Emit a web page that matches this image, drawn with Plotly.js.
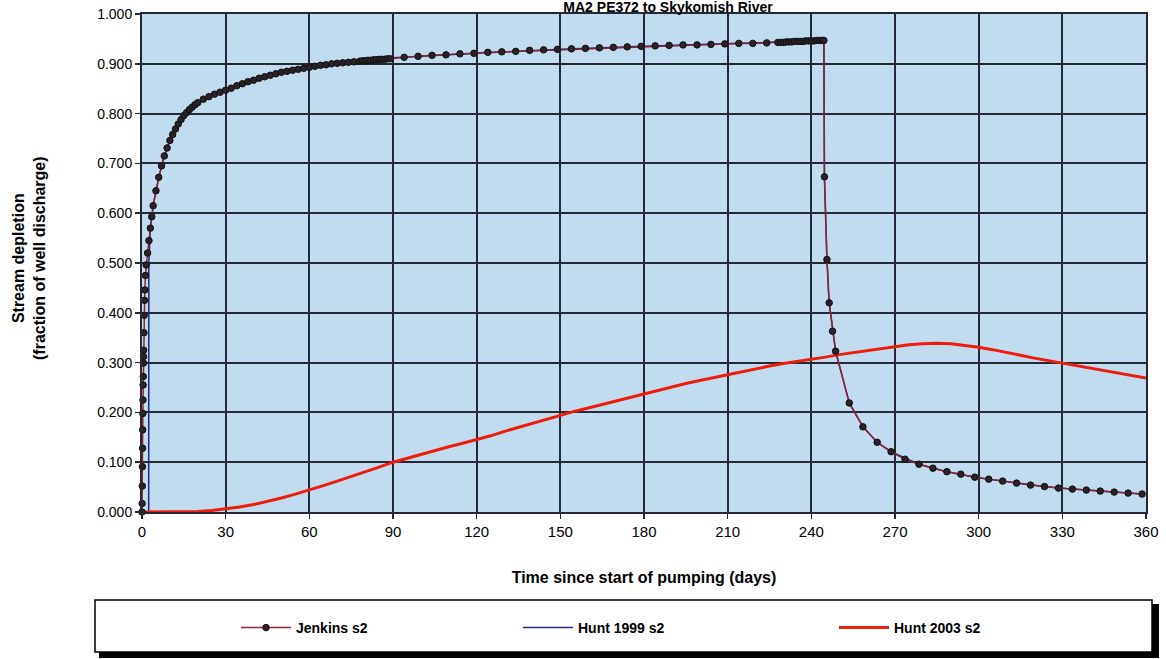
<!DOCTYPE html>
<html>
<head>
<meta charset="utf-8">
<script src="https://cdn.plot.ly/plotly-3.0.1.min.js"></script>
<style>html,body{margin:0;padding:0;background:#fff;}#chart{width:1166px;height:659px;}</style>
</head>
<body>
<div id="chart"></div>
<script>
// ---------- DATA ----------
var chartTitle = "MA2 PE372 to Skykomish River";
var xTitle = "Time since start of pumping (days)";
var yTitle = "Stream depletion<br>(fraction of well discharge)";
var seriesNames = ["Jenkins s2", "Hunt 1999 s2", "Hunt 2003 s2"];

var jenkinsDays = [0,0.05,0.1,0.15,0.2,0.25,0.3,0.35,0.4,0.45,0.5,0.55,0.6,0.7,0.8,0.9,1,1.25,1.5,2,2.5,3,3.5,4,5,6,7,8,9,10,11,12,13,14,15,16,17,18,19,20,22,24,26,28,30,32,34,36,38,40,42,44,46,48,50,52,54,56,58,60,62,64,66,68,70,72,74,76,78,79,80,81,82,83,84,85,86,87,88,89,94,99,104,109,114,119,124,129,134,139,144,149,154,159,164,169,174,179,184,189,194,199,204,209,214,219,224,228,229,230,231,232,233,234,235,236,237,238,239,240,241,242,243,244,244.5,244.7,245.6,246.4,247.6,248.7,253.6,258.5,263.6,268.6,273.6,278.6,283.6,288.6,293.6,298.6,303.6,308.6,313.6,318.6,323.6,328.6,333.6,338.6,343.6,348.6,353.6,358.6];
var jenkinsValues = [0,0.017,0.052,0.091,0.128,0.165,0.198,0.225,0.255,0.272,0.299,0.312,0.325,0.36,0.395,0.425,0.446,0.475,0.496,0.52,0.545,0.57,0.593,0.615,0.645,0.672,0.695,0.715,0.731,0.746,0.758,0.769,0.779,0.788,0.796,0.802,0.808,0.813,0.818,0.822,0.829,0.834,0.839,0.843,0.847,0.851,0.856,0.86,0.864,0.867,0.871,0.874,0.877,0.88,0.883,0.885,0.887,0.889,0.891,0.893,0.895,0.897,0.898,0.9,0.901,0.902,0.903,0.904,0.905,0.906,0.906,0.907,0.907,0.908,0.908,0.909,0.909,0.909,0.91,0.91,0.913,0.915,0.917,0.918,0.92,0.921,0.923,0.924,0.925,0.927,0.928,0.929,0.93,0.931,0.932,0.933,0.934,0.935,0.936,0.937,0.938,0.938,0.939,0.94,0.941,0.941,0.942,0.943,0.943,0.943,0.944,0.944,0.944,0.945,0.945,0.945,0.945,0.946,0.946,0.946,0.946,0.947,0.947,0.947,0.947,0.673,0.507,0.42,0.363,0.323,0.219,0.171,0.14,0.121,0.106,0.096,0.088,0.081,0.076,0.07,0.066,0.062,0.058,0.054,0.051,0.048,0.046,0.044,0.042,0.04,0.038,0.036];

var hunt1999Days = [0,2.4,2.45,3,4,5,6,8,10,12,15,20,25,30,40,50,60,75,90,120,150,180,210,240,244.5,244.7,245.6,246.4,247.6,248.7,253.6,258.5,263.6,268.6,278.6,288.6,298.6,308.6,318.6,328.6,338.6,348.6,358.6];
var hunt1999Values = [0,0,0.5,0.57,0.615,0.645,0.672,0.715,0.746,0.769,0.796,0.822,0.837,0.847,0.867,0.883,0.893,0.904,0.912,0.921,0.929,0.935,0.94,0.946,0.947,0.673,0.507,0.42,0.363,0.323,0.219,0.171,0.14,0.121,0.096,0.081,0.07,0.062,0.054,0.048,0.044,0.04,0.036];

var hunt2003Days = [0,15,20,25,30,35,40,45,50,55,60,65,70,75,80,85,90,95,100,105,110,115,120,125,130,135,140,145,150,155,160,165,170,175,180,185,190,195,200,205,210,215,220,225,230,235,240,245,250,255,260,265,270,275,280,285,290,295,300,305,310,315,320,325,330,335,340,345,350,355,360];
var hunt2003Values = [0,0,0.001,0.003,0.006,0.01,0.015,0.021,0.028,0.036,0.044,0.053,0.062,0.071,0.08,0.09,0.1,0.108,0.116,0.124,0.131,0.138,0.145,0.153,0.162,0.17,0.178,0.187,0.195,0.202,0.209,0.216,0.224,0.231,0.238,0.245,0.252,0.258,0.264,0.27,0.275,0.281,0.287,0.293,0.298,0.302,0.306,0.311,0.316,0.32,0.325,0.329,0.333,0.336,0.338,0.339,0.338,0.335,0.331,0.326,0.32,0.314,0.309,0.304,0.299,0.294,0.289,0.284,0.279,0.274,0.269];

var xTicks = [0,30,60,90,120,150,180,210,240,270,300,330,360];
var yTicks = [0,0.1,0.2,0.3,0.4,0.5,0.6,0.7,0.8,0.9,1.0];

// ---------- LAYOUT HELPERS ----------
var W = 1166, H = 659;
var L = 142, R = 1146, T = 14, B = 512;
function px(x){ return (x - L) / (R - L); }
function py(y){ return (B - y) / (B - T); }

var font = "Arial, 'Liberation Sans', sans-serif";

var traces = [
  { x: hunt1999Days, y: hunt1999Values, name: seriesNames[1], type: 'scatter', mode: 'lines',
    line: { color: '#1f2a80', width: 1.5 }, legend: 'legend2', cliponaxis: false },
  { x: hunt2003Days, y: hunt2003Values, name: seriesNames[2], type: 'scatter', mode: 'lines',
    line: { color: '#ee1c0e', width: 3 }, legend: 'legend3', cliponaxis: false },
  { x: jenkinsDays, y: jenkinsValues, name: seriesNames[0], type: 'scatter', mode: 'lines+markers',
    line: { color: '#8e2530', width: 1.5 },
    marker: { symbol: 'circle', size: 6.5, color: '#2a2226', line: { color: '#111', width: 1 } },
    legend: 'legend', cliponaxis: false }
];

function legendCfg(xpx){
  return { x: px(xpx), xanchor: 'left', y: py(628), yanchor: 'middle', orientation: 'h',
    bgcolor: 'rgba(0,0,0,0)', borderwidth: 0, itemwidth: 50,
    font: { family: font, size: 14, color: '#000', weight: 'bold' } };
}

var layout = {
  width: W, height: H,
  margin: { l: L, r: W - R, t: T, b: H - B, pad: 0 },
  paper_bgcolor: '#ffffff',
  plot_bgcolor: '#c1dbef',
  showlegend: true,
  title: { text: chartTitle, x: 668 / W, xanchor: 'center', xref: 'container', yref: 'container',
    y: 1 - 7 / H, yanchor: 'middle', font: { family: font, size: 14, color: '#000', weight: 'bold' } },
  xaxis: {
    range: [0, 360], tickvals: xTicks, ticktext: xTicks.map(String),
    showgrid: true, gridcolor: '#262833', gridwidth: 2,
    showline: true, linecolor: '#262833', linewidth: 2, mirror: true,
    ticks: 'outside', ticklen: 5, tickcolor: '#262833', tickwidth: 1.5,
    tickfont: { family: font, size: 15, color: '#000' }, zeroline: false,
    title: { text: xTitle, standoff: 33, font: { family: font, size: 16, color: '#000', weight: 'bold' } },
    automargin: false, fixedrange: true
  },
  yaxis: {
    range: [0, 1], tickvals: yTicks, tickformat: '.3f',
    showgrid: true, gridcolor: '#262833', gridwidth: 2,
    showline: true, linecolor: '#262833', linewidth: 2, mirror: true,
    ticks: 'outside', ticklen: 5, tickcolor: '#262833', tickwidth: 1.5,
    tickfont: { family: font, size: 14, color: '#000' }, zeroline: false,
    automargin: false, fixedrange: true
  },
  annotations: [
    { text: yTitle, xref: 'paper', yref: 'paper', x: px(29), y: py(258), xanchor: 'center', yanchor: 'middle',
      textangle: -90, showarrow: false, align: 'center',
      font: { family: font, size: 16, color: '#000', weight: 'bold' } }
  ],
  shapes: [
    { type: 'rect', xref: 'paper', yref: 'paper', x0: px(99), x1: px(1159), y0: py(604), y1: py(658),
      fillcolor: '#000', line: { width: 0 } },
    { type: 'rect', xref: 'paper', yref: 'paper', x0: px(95), x1: px(1152), y0: py(600), y1: py(652),
      fillcolor: '#fff', line: { color: '#000', width: 1.5 } }
  ],
  legend: legendCfg(236),
  legend2: legendCfg(518),
  legend3: legendCfg(834)
};

Plotly.newPlot('chart', traces, layout, { displayModeBar: false, staticPlot: true });
</script>
</body>
</html>
